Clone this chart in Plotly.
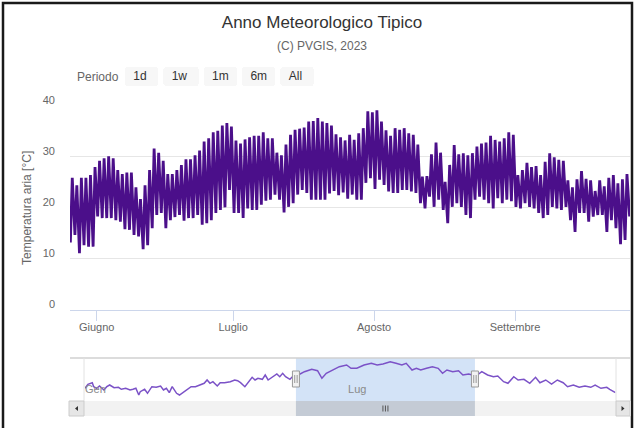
import pandas as pd
import plotly.graph_objects as go

# ---------------- data ----------------
first_day = "2023-05-26"
# daily minimum (early morning) and maximum (afternoon) air temperature, °C
t_min = [13.2, 14.7, 11.1, 12.7, 12.4, 12.4, 18.3, 18.0, 18.0, 18.0,
         17.6, 17.3, 15.8, 15.7, 14.7, 14.4, 11.9, 12.7, 16.0, 18.6,
         19.0, 16.0, 17.6, 18.2, 18.6, 17.5, 18.0, 18.0, 18.6, 16.7,
         17.0, 17.6, 19.0, 19.6, 20.1, 23.5, 19.0, 19.0, 18.0, 19.9,
         19.6, 19.6, 20.6, 21.4, 21.6, 22.6, 21.6, 19.1, 20.2, 20.9,
         22.6, 23.5, 22.9, 21.6, 21.6, 21.6, 21.6, 22.8, 23.3, 22.5,
         23.0, 21.8, 22.6, 21.6, 21.6, 24.9, 25.8, 23.7, 25.5, 24.5,
         23.2, 22.9, 22.9, 23.5, 23.5, 23.2, 22.9, 20.9, 19.9, 22.2,
         20.2, 21.6, 19.6, 17.0, 20.2, 20.9, 20.2, 18.6, 18.0, 21.6,
         22.2, 21.6, 20.9, 19.9, 21.9, 20.9, 21.6, 21.3, 20.2, 19.9,
         20.9, 20.2, 19.9, 19.0, 18.0, 18.6, 20.2, 19.9, 19.6, 20.2,
         17.6, 15.3, 19.0, 19.0, 17.3, 18.3, 18.6, 18.6, 15.3, 17.6,
         16.0, 12.9, 13.7]
t_max = [25.9, 24.4, 25.9, 25.9, 26.4, 28.0, 29.2, 29.7, 30.1, 29.7,
         27.4, 26.6, 26.9, 26.9, 24.0, 21.7, 24.4, 27.4, 31.6, 30.8,
         29.2, 26.6, 26.6, 27.4, 28.4, 29.5, 29.5, 30.3, 31.2, 33.0,
         33.6, 34.8, 35.1, 36.1, 36.6, 35.9, 33.2, 32.6, 33.4, 33.8,
         34.1, 34.1, 34.8, 33.6, 33.6, 30.8, 30.3, 32.4, 34.3, 35.3,
         35.5, 35.7, 36.9, 37.0, 37.6, 36.9, 36.6, 36.1, 34.4, 33.8,
         33.2, 34.3, 33.3, 34.6, 35.6, 38.9, 38.7, 39.1, 36.9, 35.2,
         34.1, 35.6, 35.3, 35.6, 34.6, 34.3, 32.4, 26.1, 26.2, 30.5,
         32.8, 30.8, 25.1, 28.4, 32.3, 30.5, 30.7, 30.3, 30.7, 32.0,
         32.6, 32.8, 34.1, 33.3, 33.0, 33.6, 34.8, 34.3, 26.4, 27.4,
         28.8, 28.0, 28.2, 26.4, 29.0, 30.7, 29.9, 29.4, 29.2, 25.4,
         24.0, 25.6, 27.2, 25.7, 25.4, 23.3, 25.4, 24.2, 25.9, 26.4,
         24.8, 25.6, 26.6]
t_last = 18.3          # final reading at the right edge
hour_min, hour_max = 5, 15

# navigator: smoothed whole-year curve (day of year, value)
nav_day = [0, 2, 5, 6, 8, 10, 13, 15, 17, 20, 23, 25, 28, 31, 33, 35, 37, 38,
           41, 43, 46, 49, 52, 54, 56, 58, 60, 63, 65, 68, 71, 73, 76, 79, 82,
           84, 86, 88, 91, 93, 96, 100, 103, 105, 107, 110, 112, 115, 117, 119,
           122, 124, 126, 129, 132, 134, 136, 138, 141, 143, 148, 151, 156, 160,
           163, 166, 170, 175, 180, 183, 187, 192, 197, 201, 205, 210, 214, 218,
           221, 225, 228, 231, 235, 239, 243, 246, 249, 253, 257, 260, 264, 269,
           273, 277, 281, 284, 288, 291, 295, 298, 302, 306, 310, 313, 317, 321,
           325, 329, 332, 336, 340, 344, 348, 351, 355, 359, 361, 365]
nav_val = [4.2, 8.2, 9.8, 5.8, 4.2, 6.5, 2.5, 5.8, 7.5, 4.8, 5.2, 3.2, 4.2, 2.5,
           3.2, 4.2, -2.5, 0.8, 3.2, -0.8, 5.8, 5.2, 6.5, 2.5, 4.2, -0.2, 5.8,
           -0.8, -2.5, 0.8, 3.2, 5.8, 5.8, 7.5, 9.2, 12.5, 9.2, 10.8, 6.5, 9.8,
           9.8, 10.8, 12.5, 11.8, 9.8, 5.8, 9.2, 15.2, 12.5, 14.2, 13.2, 17.5,
           12.5, 15.2, 18.5, 15.8, 19.2, 15.8, 13.2, 16.2, 18.5, 20.8, 23.2,
           21.8, 14.2, 19.2, 22.5, 25.8, 27.5, 24.2, 24.2, 27.5, 29.2, 27.5,
           28.5, 30.8, 29.2, 27.5, 29.2, 22.5, 24.2, 22.5, 24.2, 25.8, 24.2,
           19.2, 22.5, 20.8, 21.8, 17.5, 18.5, 16.5, 20.8, 17.5, 15.8, 16.5,
           10.8, 9.2, 15.8, 12.5, 13.2, 9.2, 15.2, 9.8, 12.5, 8.5, 12.5, 9.8,
           5.8, 7.5, 5.2, 6.5, 5.2, 7.5, 4.2, 5.2, 3.2, -0.2]

month_ticks = ["2023-06-01", "2023-07-01", "2023-08-01", "2023-09-01"]
month_labels = ["Giugno", "Luglio", "Agosto", "Settembre"]
nav_ticks = ["2023-01-01", "2023-07-01"]
nav_labels = ["Gen", "Lug"]
y_ticks = [0, 10, 20, 30, 40]
period_buttons = [("1d", 1, "day"), ("1w", 7, "day"), ("1m", 1, "month"),
                  ("6m", 6, "month"), ("All", None, "all")]

view_start = pd.Timestamp("2023-05-26 03:00")
view_end = pd.Timestamp("2023-09-26 07:00")
year_start = pd.Timestamp("2023-01-01")
year_end = pd.Timestamp("2024-01-01")

# ---------------- build series ----------------
days = pd.date_range(first_day, periods=len(t_max), freq="D")
xs, ys = [], []
for d, lo, hi in zip(days, t_min, t_max):
    xs += [d + pd.Timedelta(hours=hour_min), d + pd.Timedelta(hours=hour_max)]
    ys += [lo, hi]
xs.append(days[-1] + pd.Timedelta(hours=24 + hour_min))
ys.append(t_last)

nav_x = [year_start + pd.Timedelta(days=d) for d in nav_day]

# ---------------- geometry helpers ----------------
W, H = 635, 428
ML, MR = 70, 5
PW = W - ML - MR
NAV_L, NAV_R = 85, 615.5


def px(x):
    return (x - ML) / PW


def py(y):
    return 1 - y / H


def nav_px(ts):
    return NAV_L + (ts - year_start) / (year_end - year_start) * (NAV_R - NAV_L)


FONT = "Liberation Sans, Arial, Helvetica, sans-serif"

fig = go.Figure()
fig.add_trace(go.Scatter(
    x=xs, y=ys, mode="lines", name="Temperatura aria",
    line=dict(color="#4b0f8a", width=2.8), xaxis="x", yaxis="y",
    hovertemplate="%{x|%d %b %H:%M}<br>%{y:.1f} °C<extra></extra>"))
fig.add_trace(go.Scatter(
    x=nav_x, y=nav_val, mode="lines", name="navigator",
    line=dict(color="#7b52c7", width=1.5), xaxis="x2", yaxis="y2",
    hoverinfo="skip", showlegend=False))

shapes = []
# frame of the screenshot
shapes.append(dict(type="path", xref="paper", yref="paper",
                   path=f"M {px(3)} {py(428)} L {px(3)} {py(3)} L {px(632)} {py(3)} L {px(632)} {py(428)}",
                   line=dict(color="#1a1a1a", width=2.5)))
# navigator selection mask
shapes.append(dict(type="rect", xref="x2", yref="paper", x0=view_start, x1=view_end,
                   y0=py(401), y1=py(358), fillcolor="#d3e3f7", line=dict(width=0),
                   layer="below"))
# navigator outline
shapes.append(dict(type="line", xref="paper", yref="paper", x0=px(70), x1=px(630),
                   y0=py(358), y1=py(358), line=dict(color="#d0d0d0", width=1.5)))
for xv in (84, 616):
    shapes.append(dict(type="line", xref="paper", yref="paper", x0=px(xv), x1=px(xv),
                       y0=py(401), y1=py(358), line=dict(color="#e2e2e2", width=1)))
# scrollbar track
shapes.append(dict(type="rect", xref="paper", yref="paper", x0=px(69), x1=px(631),
                   y0=py(416), y1=py(401), fillcolor="#f2f2f2", line=dict(width=0)))
# scrollbar thumb
shapes.append(dict(type="rect", xref="x2", yref="paper", x0=view_start, x1=view_end,
                   y0=py(416), y1=py(401), fillcolor="#c4cbd5", line=dict(width=0)))
mid = (nav_px(view_start) + nav_px(view_end)) / 2
for dx in (-2.5, 0, 2.5):
    shapes.append(dict(type="line", xref="paper", yref="paper", x0=px(mid + dx), x1=px(mid + dx),
                       y0=py(411.5), y1=py(405.5), line=dict(color="#555555", width=1)))
# scrollbar buttons
for x0, x1, pts in ((69, 84, [(78, 406), (78, 411), (75, 408.5)]),
                    (616, 630, [(621.5, 406), (621.5, 411), (624.5, 408.5)])):
    shapes.append(dict(type="rect", xref="paper", yref="paper", x0=px(x0), x1=px(x1),
                       y0=py(416), y1=py(401), fillcolor="#e6e6e6",
                       line=dict(color="#cccccc", width=1)))
    path = "M " + " L ".join(f"{px(a)} {py(b)}" for a, b in pts) + " Z"
    shapes.append(dict(type="path", xref="paper", yref="paper", path=path,
                       fillcolor="#333333", line=dict(width=0)))
# navigator handles
for ts in (view_start, view_end):
    hx = nav_px(ts)
    shapes.append(dict(type="rect", xref="paper", yref="paper", x0=px(hx - 3.5), x1=px(hx + 3.5),
                       y0=py(387), y1=py(371), fillcolor="#f2f2f2",
                       line=dict(color="#999999", width=1)))
    for dx in (-1.2, 1.2):
        shapes.append(dict(type="line", xref="paper", yref="paper", x0=px(hx + dx), x1=px(hx + dx),
                           y0=py(383), y1=py(375), line=dict(color="#999999", width=1)))

annotations = [
    dict(text="(C) PVGIS, 2023", xref="paper", yref="paper", x=px(322), y=py(46),
         xanchor="center", yanchor="middle", showarrow=False,
         font=dict(family=FONT, size=12, color="#666666")),
    dict(text="Periodo", xref="paper", yref="paper", x=px(121), y=py(77),
         xanchor="right", yanchor="middle", showarrow=False,
         font=dict(family=FONT, size=12, color="#666666")),
]

NB = "\u00a0"
pad = {"1d": 3, "1w": 3, "1m": 2, "6m": 2, "All": 3}
buttons = []
for lab, cnt, step in period_buttons:
    n = pad[lab]
    text = NB * (n // 2) + lab + NB * (n - n // 2)
    if step == "all":
        buttons.append(dict(label=text, step="all"))
    else:
        buttons.append(dict(count=cnt, label=text, step=step, stepmode="backward"))

fig.update_layout(
    width=W, height=H,
    margin=dict(l=ML, r=MR, t=0, b=0, autoexpand=False),
    paper_bgcolor="white", plot_bgcolor="white",
    font=dict(family=FONT, color="#666666"),
    showlegend=False,
    title=dict(text="Anno Meteorologico Tipico", x=322 / W, xref="container",
               xanchor="center", y=1 - 22 / H, yref="container", yanchor="middle",
               font=dict(family=FONT, size=17, color="#333333")),
    xaxis=dict(
        type="date", domain=[0, 1], anchor="y", range=[view_start, view_end],
        tickvals=month_ticks, ticktext=month_labels,
        ticks="outside", ticklen=10, tickcolor="#ccd6eb", tickwidth=1,
        showline=True, linecolor="#ccd6eb", linewidth=1, showgrid=False, zeroline=False,
        tickfont=dict(family=FONT, size=11, color="#666666"), ticklabelstandoff=-3,
        rangeselector=dict(
            buttons=buttons,
            x=px(125), y=py(67), xanchor="left", yanchor="top",
            bgcolor="#f7f7f7", activecolor="#e6ebf5", borderwidth=0,
            font=dict(family=FONT, size=12, color="#333333")),
    ),
    yaxis=dict(
        domain=[py(310), py(105.7)], anchor="x", range=[0, 40], tickvals=y_ticks,
        showgrid=True, gridcolor="#e6e6e6", gridwidth=1, zeroline=False, showline=False,
        ticks="", ticklabelstandoff=14, ticklabelshift=-6,
        tickfont=dict(family=FONT, size=11, color="#666666"),
        title=dict(text="Temperatura aria [°C]", standoff=8,
                   font=dict(family=FONT, size=12, color="#666666")),
    ),
    xaxis2=dict(
        type="date", domain=[px(NAV_L), px(NAV_R)], anchor="y2",
        range=[year_start, year_end], tickvals=nav_ticks, ticktext=nav_labels,
        ticklabelposition="inside right", ticks="", showgrid=False, zeroline=False,
        showline=False, tickfont=dict(family=FONT, size=11, color="#8a8a8a"),
        fixedrange=True,
    ),
    yaxis2=dict(domain=[py(401), py(358)], anchor="x2", range=[-8.5, 34.5],
                visible=False, fixedrange=True),
    shapes=shapes,
    annotations=annotations,
)

# the page's default 8px body margin would push the 635x428 figure off-screen
fig.write_html("out.html", config={"displayModeBar": False},
               post_script="document.body.style.margin = '0';")
